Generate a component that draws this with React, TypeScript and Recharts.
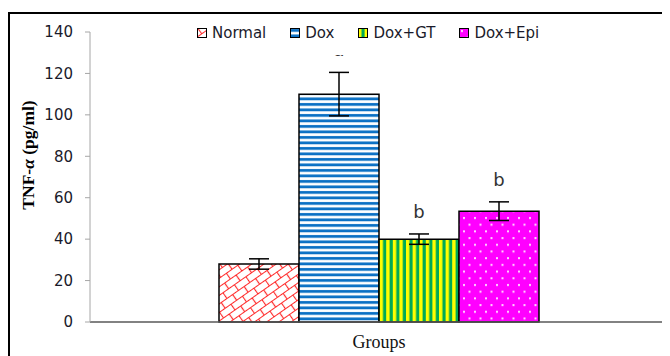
import React from 'react';
import {
  BarChart,
  Bar,
  XAxis,
  YAxis,
  ErrorBar,
  LabelList,
  Legend,
} from 'recharts';

const groups = ['Normal', 'Dox', 'Dox+GT', 'Dox+Epi'];
const seriesKeys = ['normal', 'dox', 'gt', 'epi'];
const means = [28, 110, 40, 53.5];
const errors = [2.5, 10.5, 2.5, 4.5];
const sigLabels = ['', 'a', 'b', 'b'];
const yTicks = [0, 20, 40, 60, 80, 100, 120, 140];
const patternIds = ['pNormal', 'pDox', 'pGT', 'pEpi'];

const row: Record<string, any> = { name: '' };
seriesKeys.forEach((k, i) => {
  row[k] = means[i];
  row[k + 'Err'] = errors[i];
  row[k + 'Sig'] = sigLabels[i];
});
const data = [row];

const sans = '"DejaVu Sans", Verdana, sans-serif';
const serif = '"Liberation Serif", "Times New Roman", serif';

function Patterns() {
  return (
    <svg width={0} height={0} style={{ position: 'absolute' }}>
      <defs>
        <pattern id="pNormal" width={14} height={14} patternUnits="userSpaceOnUse" patternTransform="rotate(-35)">
          <rect width={14} height={14} fill="#fff" />
          <path d="M0 0.5 H14 M0 7.5 H14 M0.5 0 V7.5 M7.5 7.5 V14" stroke="#ff2a2a" strokeWidth={1.2} fill="none" />
        </pattern>
        <pattern id="pDox" width={8} height={5.5} patternUnits="userSpaceOnUse">
          <rect width={8} height={5.5} fill="#fff" />
          <rect y={1} width={8} height={2.8} fill="#0a70c4" />
        </pattern>
        <pattern id="pGT" width={6.6} height={8} patternUnits="userSpaceOnUse">
          <rect width={6.6} height={8} fill="#ffff00" />
          <rect x={3.4} width={3.2} height={8} fill="#00aa55" />
        </pattern>
        <pattern id="pEpi" width={11} height={13.4} patternUnits="userSpaceOnUse">
          <rect width={11} height={13.4} fill="#ff00ff" />
          <rect x={2} y={2} width={2} height={2} fill="#ffd6ff" />
          <rect x={7.5} y={8.7} width={2} height={2} fill="#ffd6ff" />
        </pattern>
      </defs>
    </svg>
  );
}

function LegendBox() {
  return (
    <div
      style={{
        display: 'flex',
        alignItems: 'center',
        boxSizing: 'border-box',
        height: 39,
        paddingLeft: 7,
        paddingBottom: 5,
        background: '#fff',
        fontFamily: sans,
        fontSize: 15,
        color: '#1a1a2a',
      }}
    >
      {groups.map((g, i) => (
        <span key={g} style={{ display: 'flex', alignItems: 'center', marginRight: 24 }}>
          <svg width={10} height={10}>
            <rect x={0.5} y={0.5} width={9} height={9} fill={`url(#${patternIds[i]})`} stroke="#000" />
          </svg>
          <span style={{ marginLeft: 5 }}>{g}</span>
        </span>
      ))}
    </div>
  );
}

function sigLabel(i: number) {
  return (props: any) => {
    const { x, y, width, height, value } = props;
    if (!value) return null;
    const errTop = y - (errors[i] * height) / means[i];
    return (
      <text
        x={x + width / 2}
        y={errTop - 16}
        textAnchor="middle"
        fontFamily={sans}
        fontSize={18}
        fill="#333"
      >
        {value}
      </text>
    );
  };
}

function YTitle() {
  return (
    <text
      transform="translate(24, 141) rotate(-90)"
      textAnchor="middle"
      fontFamily={serif}
      fontSize={17.5}
      fontWeight="bold"
      fill="#000"
    >
      TNF-<tspan fontStyle="italic">α</tspan> (pg/ml)
    </text>
  );
}

export default function App() {
  return (
    <div
      style={{
        marginTop: 4,
        width: 660,
        height: 344,
        borderLeft: '2px solid #000',
        borderTop: '2px solid #000',
        position: 'relative',
      }}
    >
      <style>{'html,body{overflow:hidden}'}</style>
      <Patterns />
      <BarChart
        width={658}
        height={342}
        data={data}
        margin={{ top: 18, right: 0, bottom: 0, left: 0 }}
        barCategoryGap={129}
        barGap={0}
      >
        <XAxis
          dataKey="name"
          height={34}
          tick={false}
          tickLine={false}
          axisLine={{ stroke: '#595959', strokeWidth: 1.5 }}
          label={{
            value: 'Groups',
            position: 'insideBottom',
            offset: 8,
            style: { fontFamily: serif, fontSize: 18, fill: '#111' },
          }}
        />
        <YAxis
          width={80}
          domain={[0, 140]}
          ticks={yTicks}
          interval={0}
          tickSize={5}
          tickMargin={12}
          axisLine={{ stroke: '#a6a6a6' }}
          tickLine={{ stroke: '#a6a6a6' }}
          tick={{ fontFamily: sans, fontSize: 15, fill: '#1a1a2a' }}
          label={<YTitle />}
        />
        <Legend
          layout="vertical"
          align="center"
          verticalAlign="middle"
          content={<LegendBox />}
          wrapperStyle={{ top: 2, left: 180, width: 380, height: 39 }}
        />
        {seriesKeys.map((k, i) => (
          <Bar
            key={k}
            dataKey={k}
            name={groups[i]}
            fill={`url(#${patternIds[i]})`}
            stroke="#000"
            strokeWidth={1.5}
            isAnimationActive={false}
          >
            <ErrorBar dataKey={k + 'Err'} width={10} stroke="#000" strokeWidth={1.5} />
            <LabelList dataKey={k + 'Sig'} content={sigLabel(i)} />
          </Bar>
        ))}
      </BarChart>
    </div>
  );
}
